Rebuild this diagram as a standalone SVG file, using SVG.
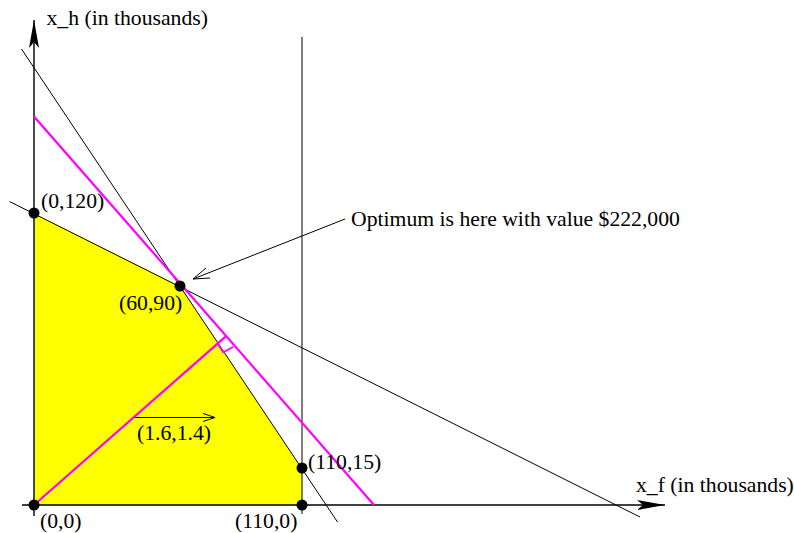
<svg xmlns="http://www.w3.org/2000/svg" width="794" height="533" viewBox="0 0 794 533">
<style>
.lbl{font-family:'Liberation Serif','Times New Roman','DejaVu Serif',serif;font-size:21.7px;fill:#000}
.thin{stroke:#000;stroke-width:1;fill:none}
.axis{stroke:#000;stroke-width:1.4;fill:none}
.mag{stroke:#ff00ff;stroke-width:2.2;fill:none}
.dot{fill:#000}
</style>
<defs>
<marker id="solidHead" markerUnits="userSpaceOnUse" markerWidth="30" markerHeight="12" refX="28" refY="6" orient="auto">
<path d="M0,1 L28,6 L0,11 L6,6 Z" fill="#000"/>
</marker>
</defs>
<rect width="794" height="533" fill="#fff"/>
<g id="region">
<polygon points="34,213 180,286 302,468 302,505 34,505" fill="#ffff00"/>
</g>
<g id="connectors">
<line class="axis" x1="22" y1="505" x2="665" y2="505" marker-end="url(#solidHead)"/>
<line class="axis" x1="34" y1="516" x2="34" y2="20" marker-end="url(#solidHead)"/>
<line class="thin" x1="302" y1="37" x2="302" y2="514"/>
<line class="thin" x1="9.5" y1="201.5" x2="640" y2="517"/>
<line class="thin" x1="21.5" y1="49" x2="337.5" y2="522"/>
<line class="mag" x1="34" y1="116.5" x2="374" y2="505"/>
<line class="mag" x1="34" y1="505" x2="226.7" y2="335.7"/>
<polyline class="mag" points="217.3,343.3 223.3,352.3 233.3,346.7" style="stroke-width:1.8"/>
<line class="thin" x1="135" y1="417.5" x2="215" y2="417.5"/>
<polyline class="thin" points="203,413.5 215,417.5 203,421.5"/>
<line class="thin" x1="345" y1="219" x2="193" y2="279"/>
<polyline class="thin" points="206,268 193,279 210,278"/>
</g>
<g id="vertices">
<circle class="dot" cx="34" cy="213" r="5.5"/>
<circle class="dot" cx="180" cy="286" r="5.5"/>
<circle class="dot" cx="302" cy="468" r="5.5"/>
<circle class="dot" cx="302" cy="505" r="5.5"/>
<circle class="dot" cx="34" cy="505" r="5.5"/>
</g>
<g id="labels" font-family="Liberation Serif, serif" font-size="21.7">
<text class="lbl" x="46.5" y="25">x_h (in thousands)</text>
<text class="lbl" x="636" y="492">x_f (in thousands)</text>
<text class="lbl" x="351" y="226">Optimum is here with value $222,000</text>
<text class="lbl" x="41" y="208">(0,120)</text>
<text class="lbl" x="119" y="310">(60,90)</text>
<text class="lbl" x="308" y="469">(110,15)</text>
<text class="lbl" x="235" y="528">(110,0)</text>
<text class="lbl" x="40" y="528">(0,0)</text>
<text class="lbl" x="137" y="440">(1.6,1.4)</text>
</g>
</svg>
